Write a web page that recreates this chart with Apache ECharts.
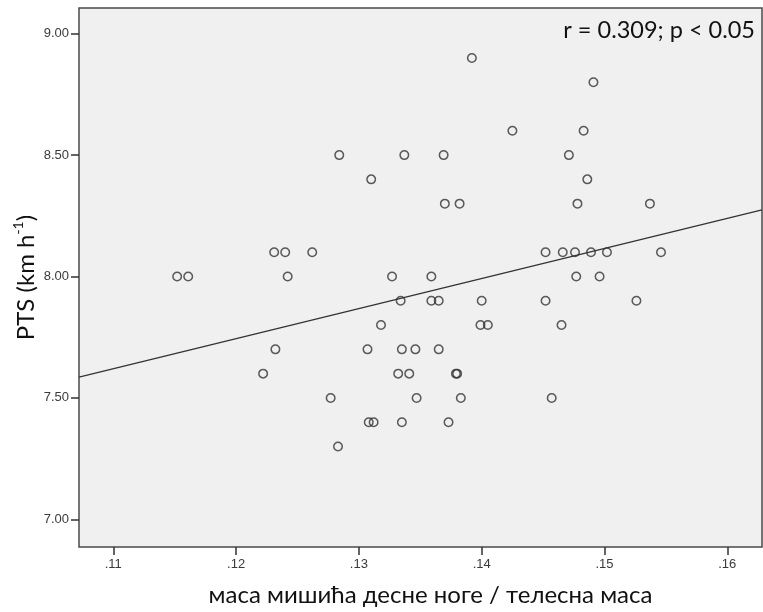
<!DOCTYPE html>
<html>
<head>
<meta charset="utf-8">
<script src="https://cdn.jsdelivr.net/npm/echarts@6/dist/echarts.min.js"></script>
<style>
  html, body { margin: 0; padding: 0; background: #ffffff; }
  #chart { width: 763px; height: 612px; }
</style>
</head>
<body>
<div id="chart"></div>
<script>
// Relative right-leg muscle mass (x) against PTS speed (y), one entry per subject
const muscleRatio = [
  0.1392, 0.1491, 0.1425, 0.1483, 0.1284, 0.1337, 0.1369, 0.1471,
  0.1310, 0.1486, 0.1370, 0.1382, 0.1478, 0.1537,
  0.1231, 0.1240, 0.1262, 0.1452, 0.1466, 0.1476, 0.1489, 0.1502, 0.1546,
  0.1152, 0.1161, 0.1242, 0.1327, 0.1359, 0.1477, 0.1496,
  0.1334, 0.1359, 0.1365, 0.1400, 0.1452, 0.1526,
  0.1318, 0.1399, 0.1405, 0.1465,
  0.1232, 0.1307, 0.1335, 0.1346, 0.1365,
  0.1222, 0.1332, 0.1341, 0.1379, 0.1380,
  0.1277, 0.1347, 0.1383, 0.1457,
  0.1308, 0.1312, 0.1335, 0.1373,
  0.1283
];
const ptsSpeed = [
  8.9, 8.8, 8.6, 8.6, 8.5, 8.5, 8.5, 8.5,
  8.4, 8.4, 8.3, 8.3, 8.3, 8.3,
  8.1, 8.1, 8.1, 8.1, 8.1, 8.1, 8.1, 8.1, 8.1,
  8.0, 8.0, 8.0, 8.0, 8.0, 8.0, 8.0,
  7.9, 7.9, 7.9, 7.9, 7.9, 7.9,
  7.8, 7.8, 7.8, 7.8,
  7.7, 7.7, 7.7, 7.7, 7.7,
  7.6, 7.6, 7.6, 7.6, 7.6,
  7.5, 7.5, 7.5, 7.5,
  7.4, 7.4, 7.4, 7.4,
  7.3
];

// Tick values shown on each axis
const xTickValues = [0.11, 0.12, 0.13, 0.14, 0.15, 0.16];
const yTickValues = [7.0, 7.5, 8.0, 8.5, 9.0];

// Linear fit line (PTS = intercept + slope * ratio)
const fitIntercept = 6.257;
const fitSlope = 12.39;

const annotationText = 'r = 0.309; p < 0.05';
const xAxisTitle = 'маса мишића десне ноге / телесна маса';

// Axis extents (padding around the data as in the statistics package output)
const X_MIN = 0.107207, X_MAX = 0.162826;
const Y_MIN = 6.88601, Y_MAX = 9.10576;

const points = muscleRatio.map((x, i) => [x, ptsSpeed[i]]);
const fitLine = [X_MIN, X_MAX].map(x => [x, fitIntercept + fitSlope * x]);

const tickFont = '"Liberation Sans", Arial, sans-serif';
const titleFont = 'Lato, "Open Sans", sans-serif';

const chart = echarts.init(document.getElementById('chart'), null, { renderer: 'canvas' });

chart.setOption({
  backgroundColor: '#ffffff',
  animation: false,
  grid: {
    left: 79, top: 8, width: 683, height: 539,
    containLabel: false,
    outerBoundsMode: 'none',
    show: true,
    backgroundColor: '#f0f0f0',
    borderColor: '#4a4a4a',
    borderWidth: 1.5
  },
  xAxis: {
    type: 'value',
    min: X_MIN, max: X_MAX,
    axisLine: { show: false },
    splitLine: { show: false },
    axisTick: {
      show: true, inside: false, length: 8,
      customValues: xTickValues,
      lineStyle: { color: '#333', width: 1.5 }
    },
    axisLabel: {
      customValues: xTickValues,
      margin: 11,
      color: '#3a3a3a',
      fontSize: 13,
      fontFamily: tickFont,
      formatter: v => v.toFixed(2).replace(/^0/, '')
    },
    name: xAxisTitle,
    nameLocation: 'middle',
    nameGap: 36,
    nameMoveOverlap: false,
    nameTextStyle: {
      fontSize: 24, color: '#111', fontFamily: titleFont,
      padding: [0, 0, 0, 20]
    }
  },
  yAxis: {
    type: 'value',
    min: Y_MIN, max: Y_MAX,
    axisLine: { show: false },
    splitLine: { show: false },
    axisTick: {
      show: true, inside: false, length: 8,
      customValues: yTickValues,
      lineStyle: { color: '#333', width: 1.5 }
    },
    axisLabel: {
      customValues: yTickValues,
      margin: 10,
      color: '#3a3a3a',
      fontSize: 13,
      fontFamily: tickFont,
      formatter: v => v.toFixed(2)
    },
    name: 'PTS (km h{sup|-1})',
    nameLocation: 'middle',
    nameGap: 38,
    nameMoveOverlap: false,
    nameTextStyle: {
      fontSize: 24, color: '#111', fontFamily: titleFont, lineHeight: 30,
      rich: {
        sup: { fontSize: 14, color: '#111', fontFamily: titleFont, lineHeight: 16, verticalAlign: 'top' }
      }
    }
  },
  graphic: [{
    type: 'text',
    right: 8, top: 18,
    style: {
      text: annotationText,
      fontSize: 23.5,
      fontFamily: titleFont,
      fill: '#111'
    }
  }],
  series: [
    {
      type: 'line',
      data: fitLine,
      symbol: 'none',
      lineStyle: { color: '#333', width: 1.3 },
      silent: true,
      z: 2
    },
    {
      type: 'scatter',
      data: points,
      symbol: 'circle',
      symbolSize: 8.5,
      itemStyle: { color: 'rgba(0,0,0,0)', borderColor: '#333', borderWidth: 1.5 },
      z: 3
    }
  ]
});
</script>
</body>
</html>
